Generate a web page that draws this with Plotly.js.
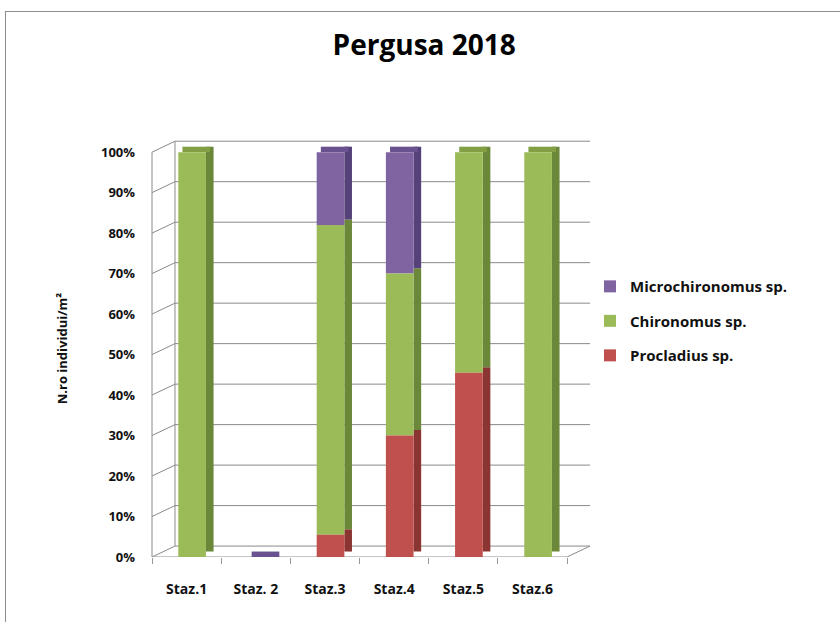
<!DOCTYPE html>
<html><head><meta charset="utf-8">
<script src="https://cdn.plot.ly/plotly-3.0.1.min.js"></script>
<style>
body{margin:0;background:#fff;}
#frame{position:absolute;left:5px;top:11px;width:840px;height:620px;border:1px solid #8c8c8c;box-sizing:border-box;}
#chart{position:absolute;left:0;top:0;width:840px;height:622px;}
</style></head>
<body><div id="frame"></div><div id="chart"></div>
<script>
const categories = ["Staz.1","Staz. 2","Staz.3","Staz.4","Staz.5","Staz.6"];
const procladius = [0, 0, 5.5, 30, 45.5, 0];
const chironomus = [100, 0, 76.5, 40, 54.5, 100];
const microchironomus = [0, 0, 18, 30, 0, 0];
const seriesNames = ["Procladius sp.","Chironomus sp.","Microchironomus sp."];
const yTicks = [0,10,20,30,40,50,60,70,80,90,100];

const frontColors = ["#C0504D","#9BBB59","#8064A2"];
const sideColors = ["#8B3533","#6B8739","#55427A"];
const topColors = ["#A84442","#82A043","#6A5290"];
const depthY = 2.7;   // apparent depth in axis units
const depthX = 0.0525; // apparent depth in paper units

const series = [procladius, chironomus, microchironomus];
const bases = [];
let running = categories.map(()=>0);
series.forEach(s=>{ bases.push(running.slice()); running = running.map((v,i)=>v+s[i]); });
const totals = running;
const topSeries = categories.map((c,i)=>{
  let t = series.length-1;
  for (let k=series.length-1;k>=0;k--){ if (series[k][i]>0){ t=k; break; } }
  return t;
});

const traces = [];
series.forEach((s,k)=>{
  traces.push({type:'bar',x:categories,y:s,base:bases[k].map(b=>b+depthY*0.5),
    offset:0.28,width:0.11,marker:{color:sideColors[k],line:{width:0}},
    showlegend:false,hoverinfo:'skip'});
});
traces.push({type:'bar',x:categories,y:categories.map(()=>depthY*0.5),base:totals,
  offset:-0.06,width:0.40,marker:{color:topSeries.map(k=>topColors[k]),line:{width:0}},
  showlegend:false,hoverinfo:'skip'});
for (let k=series.length-1;k>=0;k--){
  traces.push({type:'bar',x:categories,y:series[k],base:bases[k],name:seriesNames[k],
    legendgroup:'g'+k,offset:-0.12,width:0.40,marker:{color:frontColors[k],line:{width:0}}});
}

const shapes = [];
const gridColor = '#8a8a8a';
yTicks.forEach(v=>{
  shapes.push({type:'line',xref:'paper',yref:'y',x0:depthX,x1:1,y0:v+depthY,y1:v+depthY,
    line:{color:gridColor,width:1},layer:'below'});
  shapes.push({type:'line',xref:'paper',yref:'y',x0:0,x1:depthX,y0:v,y1:v+depthY,
    line:{color:gridColor,width:1},layer:'below'});
});
shapes.push({type:'line',xref:'paper',yref:'y',x0:depthX,x1:depthX,y0:depthY,y1:100+depthY,
  line:{color:gridColor,width:1},layer:'below'});
shapes.push({type:'line',xref:'paper',yref:'y',x0:0,x1:0,y0:0,y1:100,
  line:{color:gridColor,width:1},layer:'below'});
shapes.push({type:'line',xref:'paper',yref:'y',x0:0,x1:1-depthX,y0:0,y1:0,
  line:{color:gridColor,width:1},layer:'below'});
shapes.push({type:'line',xref:'paper',yref:'y',x0:1-depthX,x1:1,y0:0,y1:depthY,
  line:{color:gridColor,width:1},layer:'below'});

const tickFont = {size:13,color:'#111',family:'"Open Sans", sans-serif',weight:'bold'};
const layout = {
  width:840,height:622,
  paper_bgcolor:'rgba(0,0,0,0)',plot_bgcolor:'rgba(0,0,0,0)',
  margin:{l:152,r:250,t:140,b:65},
  barmode:'overlay',
  font:{family:'"Open Sans", sans-serif',color:'#111'},
  title:{text:'<b>Pergusa 2018</b>',font:{size:28,family:'"Open Sans", sans-serif',color:'#000'},
    xref:'container',yref:'container',x:0.505,y:0.928,xanchor:'center',yanchor:'middle'},
  xaxis:{type:'category',range:[-0.5,5.83],showgrid:false,zeroline:false,
    showline:false,ticks:'outside',ticklen:6,tickcolor:'#999',tickson:'boundaries',
    ticklabelstandoff:22,tickfont:{size:14,color:'#111',family:'"Open Sans", sans-serif',weight:'bold'}},
  yaxis:{range:[0,103],tickvals:yTicks,ticktext:yTicks.map(v=>v+'%'),showgrid:false,
    zeroline:false,showline:false,ticks:'',ticklabelstandoff:16,tickfont:tickFont,
    title:{text:'<b>N.ro individui/m²</b>',font:{size:13,color:'#111'},standoff:30}},
  legend:{x:1.0,y:0.688,xanchor:'left',yanchor:'top',traceorder:'grouped',
    tracegroupgap:12,font:{size:15,color:'#111',family:'"Open Sans", sans-serif',weight:'bold'},
    itemwidth:30,bgcolor:'rgba(0,0,0,0)'},
  shapes:shapes,
  showlegend:true
};
Plotly.newPlot('chart',traces,layout,{displayModeBar:false,staticPlot:true});
</script></body></html>
